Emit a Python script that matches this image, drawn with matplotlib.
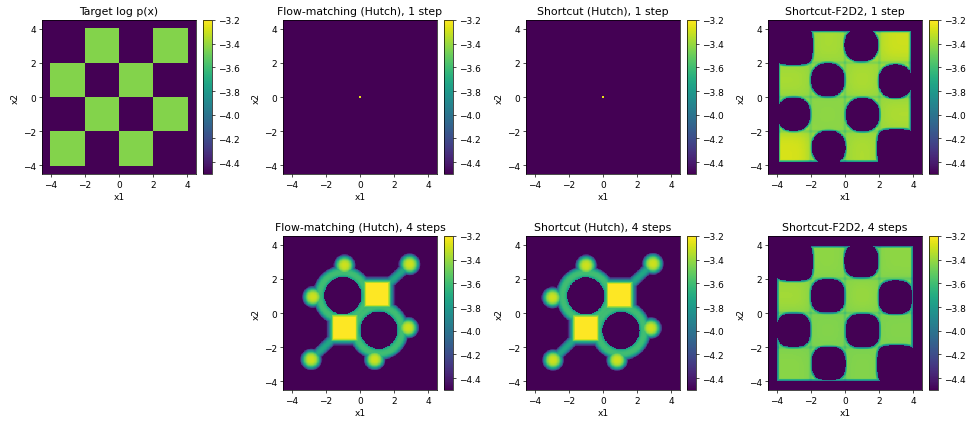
import numpy as np
import matplotlib
matplotlib.use("Agg")
from matplotlib import pyplot as plt

# colour scale shared by all panels
VMIN, VMAX = -4.5, -3.2
CBAR_TICKS = [-4.4, -4.2, -4.0, -3.8, -3.6, -3.4, -3.2]
AX_TICKS = [-4, -2, 0, 2, 4]
LIM = 4.5

TITLES = [
    "Target log p(x)",
    "Flow-matching (Hutch), 1 step",
    "Shortcut (Hutch), 1 step",
    "Shortcut-F2D2, 1 step",
    None,
    "Flow-matching (Hutch), 4 steps",
    "Shortcut (Hutch), 4 steps",
    "Shortcut-F2D2, 4 steps",
]

# target: uniform checkerboard, 8 squares of side 2
TARGET_X = [-1, 3, -3, 1, -1, 3, -3, 1]
TARGET_Y = [3, 3, 1, 1, -1, -1, -3, -3]
TARGET_LEVEL = -3.44

# one-step Hutch models collapse to a point at the origin
POINT_X = [0.0]
POINT_Y = [0.0]
POINT_LEVEL = -3.25

# four-step Hutch models: two bright cores, six blobs, two rings, two arms
FM4_CORE_X = [1.0, -0.9]
FM4_CORE_Y = [1.1, -0.86]
FM4_BLOB_X = [-0.9, 2.9, -2.75, 2.81, -2.85, 0.86]
FM4_BLOB_Y = [2.79, 2.85, 0.94, -0.86, -2.71, -2.71]
FM4_RING_X = [-1.0, 1.1]
FM4_RING_Y = [1.02, -1.0]
FM4_ARMS = [(1.0, 1.1, 2.9, 2.85), (-0.9, -0.86, -2.85, -2.71)]

SC4_CORE_X = [0.95, -1.0]
SC4_CORE_Y = [1.05, -0.88]
SC4_BLOB_X = [-0.98, 2.92, -2.95, 2.8, -2.92, 0.82]
SC4_BLOB_Y = [2.78, 2.88, 0.9, -0.88, -2.75, -2.75]
SC4_RING_X = [-1.0, 1.05]
SC4_RING_Y = [1.0, -1.02]
SC4_ARMS = [(0.95, 1.05, 2.92, 2.88), (-1.0, -0.88, -2.92, -2.75)]

CORE_LEVEL, BLOB_LEVEL, RING_LEVEL, ARM_LEVEL = -3.1, -3.3, -3.6, -3.72

# F2D2: filled box with rounded holes at the empty squares
F2D2_HOLE_X = [-1, 2.95, -3, 1.03, 0.95, -0.95]
F2D2_HOLE_Y = [1, 0.92, -1, -1.03, 3.05, -2.95]
F2D2_CORNER_X = [-3, 3]
F2D2_CORNER_Y = [3, -3]
F2D2_1_BOX = (-3.87, 3.83, -3.78, 3.85)
F2D2_4_BOX = (-3.95, 3.95, -3.95, 3.9)
# level per 2x2 cell, rows from top (y 2..4) to bottom (y -4..-2)
F2D2_1_LEVELS = [
    [-3.45, -3.37, -3.42, -3.3],
    [-3.37, -3.45, -3.36, -3.45],
    [-3.45, -3.42, -3.45, -3.36],
    [-3.28, -3.45, -3.36, -3.45],
]
F2D2_4_LEVELS = [
    [-3.45, -3.42, -3.46, -3.42],
    [-3.38, -3.48, -3.4, -3.48],
    [-3.48, -3.44, -3.48, -3.44],
    [-3.43, -3.48, -3.44, -3.48],
]

N = 260
xs = (np.arange(N) + 0.5) / N * 2 * LIM - LIM
X, Y = np.meshgrid(xs, xs)
FLOOR = VMIN - 0.3


def box_dist(cx, cy, h):
    return np.maximum(np.abs(X - cx), np.abs(Y - cy)) - h


def seg_dist(x0, y0, x1, y1):
    dx, dy = x1 - x0, y1 - y0
    t = np.clip(((X - x0) * dx + (Y - y0) * dy) / (dx * dx + dy * dy), 0, 1)
    return np.hypot(X - (x0 + t * dx), Y - (y0 + t * dy))


def smooth(a, sigma):
    s = sigma / (xs[1] - xs[0])
    r = int(3 * s)
    k = np.exp(-0.5 * (np.arange(-r, r + 1) / s) ** 2)
    k /= k.sum()
    p = np.pad(a, r, mode="edge")
    p = np.apply_along_axis(lambda v: np.convolve(v, k, mode="valid"), 0, p)
    p = np.apply_along_axis(lambda v: np.convolve(v, k, mode="valid"), 1, p)
    return p


def target_field():
    f = np.full(X.shape, FLOOR)
    for cx, cy in zip(TARGET_X, TARGET_Y):
        f[box_dist(cx, cy, 1.0) <= 0] = TARGET_LEVEL
    return f


def point_field():
    f = np.full(X.shape, FLOOR)
    for cx, cy in zip(POINT_X, POINT_Y):
        f[box_dist(cx, cy, 0.07) <= 0] = POINT_LEVEL
    return f


def hutch_field(core_x, core_y, blob_x, blob_y, ring_x, ring_y, arms):
    parts = [np.full(X.shape, FLOOR)]
    for cx, cy in zip(ring_x, ring_y):
        r = np.hypot(X - cx, Y - cy)
        parts.append(RING_LEVEL - 0.9 * (np.abs(r - 1.36) / 0.42) ** 3)
    for x0, y0, x1, y1 in arms:
        parts.append(ARM_LEVEL - 0.78 * (seg_dist(x0, y0, x1, y1) / 0.34) ** 2.5)
    for bx, by in zip(blob_x, blob_y):
        d = np.hypot(X - bx, Y - by)
        parts.append(BLOB_LEVEL - 1.2 * (d / 0.66) ** 3)
    for cx, cy in zip(core_x, core_y):
        d = np.maximum(box_dist(cx, cy, 0.6), 0)
        parts.append(CORE_LEVEL - 3.0 * d)
    f = np.max(parts, axis=0)
    # holes inside the rings stay empty
    for cx, cy in zip(ring_x, ring_y):
        f[np.hypot(X - cx, Y - cy) < 1.08] = FLOOR
    return f


def f2d2_field(levels, box, hole_r, hole_p):
    x0, x1, y0, y1 = box
    lev = np.asarray(levels)[::-1]
    ci = np.clip(((X + 4) // 2).astype(int), 0, 3)
    cj = np.clip(((Y + 4) // 2).astype(int), 0, 3)
    base = smooth(lev[cj, ci], 0.45)
    for g in [-2, 0, 2]:
        base -= 0.07 * (np.exp(-((X - g) / 0.08) ** 2) + np.exp(-((Y - g) / 0.08) ** 2))
    d = np.minimum.reduce([X - x0, x1 - X, Y - y0, y1 - Y])
    for hx, hy in zip(F2D2_HOLE_X, F2D2_HOLE_Y):
        r = (np.abs(X - hx) ** hole_p + np.abs(Y - hy) ** hole_p) ** (1 / hole_p)
        d = np.minimum(d, r - hole_r)
    for hx, hy in zip(F2D2_CORNER_X, F2D2_CORNER_Y):
        r = (np.abs(X - hx) ** 4 + np.abs(Y - hy) ** 4) ** 0.25
        d = np.minimum(d, r - 1.12)
    f = base - 0.55 * np.clip(1 - d / 0.14, 0, 1) ** 1.5
    f[d < 0] = FLOOR
    return f


fields = [
    target_field(),
    point_field(),
    point_field(),
    f2d2_field(F2D2_1_LEVELS, F2D2_1_BOX, 0.97, 2.4),
    None,
    hutch_field(FM4_CORE_X, FM4_CORE_Y, FM4_BLOB_X, FM4_BLOB_Y, FM4_RING_X, FM4_RING_Y, FM4_ARMS),
    hutch_field(SC4_CORE_X, SC4_CORE_Y, SC4_BLOB_X, SC4_BLOB_Y, SC4_RING_X, SC4_RING_Y, SC4_ARMS),
    f2d2_field(F2D2_4_LEVELS, F2D2_4_BOX, 0.97, 3.0),
]

W, H = 973, 427
fig = plt.figure(figsize=(W / 100, H / 100), dpi=100)
col_left = [42, 283, 526, 768]
row_top = [21, 237]
size = 154

for i, (title, field) in enumerate(zip(TITLES, fields)):
    if field is None:
        continue
    r, c = divmod(i, 4)
    left, top = col_left[c], row_top[r]
    ax = fig.add_axes([left / W, (H - top - size) / H, size / W, size / H])
    im = ax.imshow(field, origin="lower", extent=[-LIM, LIM, -LIM, LIM],
                   cmap="viridis", vmin=VMIN, vmax=VMAX, interpolation="nearest")
    ax.set_xlim(-LIM, LIM)
    ax.set_ylim(-LIM, LIM)
    ax.set_xticks(AX_TICKS)
    ax.set_yticks(AX_TICKS)
    ax.tick_params(labelsize=6.5, length=2.3, width=0.5, pad=2)
    ax.set_title(title, fontsize=7.8, pad=4)
    ax.set_xlabel("x1", fontsize=6.5, labelpad=2)
    ax.set_ylabel("x2", fontsize=6.5, labelpad=2)
    for s in ax.spines.values():
        s.set_linewidth(0.5)

    cax = fig.add_axes([(left + size + 7) / W, (H - top - size) / H, 9 / W, size / H])
    cb = fig.colorbar(im, cax=cax, ticks=CBAR_TICKS)
    cb.ax.tick_params(labelsize=6.5, length=2.3, width=0.5, pad=2)
    cb.outline.set_linewidth(0.5)

fig.savefig("out.png", dpi=100)
